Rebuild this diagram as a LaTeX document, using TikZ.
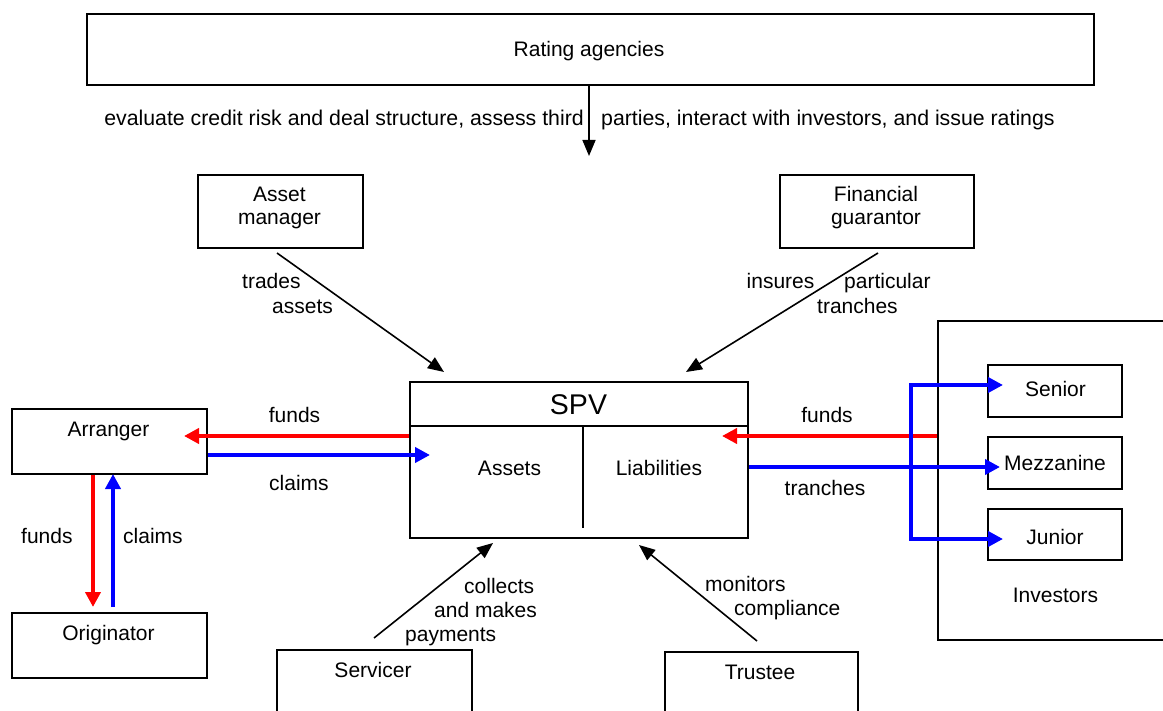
\documentclass[tikz,border=0pt]{standalone}
\usepackage{fontspec}
\setmainfont{Liberation Sans}
\usetikzlibrary{arrows.meta,calc}
\definecolor{fundred}{RGB}{255,0,0}
\definecolor{claimblue}{RGB}{0,0,255}
\tikzset{
  box/.style={draw, line width=1.8pt, inner sep=0pt, anchor=north west},
  txt/.style={font=\fontsize{21}{25}\selectfont, inner sep=0pt, anchor=base},
  txtl/.style={txt, anchor=base west},
  txtr/.style={txt, anchor=base east},
  conn/.style={line width=1.6pt, -{Triangle[length=16pt,width=13pt]}},
  fundsarrow/.style={fundred, line width=4.6pt, -{Triangle[length=15pt,width=15pt]}},
  claimsarrow/.style={claimblue, line width=4.6pt, -{Triangle[length=15pt,width=15pt]}},
  bracketarrow/.style={claimblue, line width=4.6pt, line join=miter, {Triangle[length=15pt,width=15pt]}-{Triangle[length=15pt,width=15pt]}}
}
\begin{document}
\begin{tikzpicture}[x=1pt,y=-1pt]
\useasboundingbox (0,0) rectangle (1163,711);
\clip (0,0) rectangle (1163,711);

% boxes
\node[box, minimum width=1007pt, minimum height=71pt] (rating) at (86,13) {};
\node[box, minimum width=165pt, minimum height=73pt] (assetmgr) at (197,174) {};
\node[box, minimum width=194pt, minimum height=73pt] (guarantor) at (779,174) {};
\node[box, minimum width=338pt, minimum height=156pt] (spv) at (409,381) {};
\node[box, minimum width=195pt, minimum height=65pt] (arranger) at (11,408) {};
\node[box, minimum width=195pt, minimum height=65pt] (originator) at (11,612) {};
\node[box, minimum width=250pt, minimum height=319pt] (investors) at (937,320) {};
\node[box, minimum width=134pt, minimum height=52pt] (senior) at (987,364) {};
\node[box, minimum width=134pt, minimum height=52pt] (mezz) at (987,436) {};
\node[box, minimum width=134pt, minimum height=51pt] (junior) at (987,508) {};
\node[box, minimum width=195pt, minimum height=80pt] (servicer) at (276,649) {};
\node[box, minimum width=193pt, minimum height=80pt] (trustee) at (664,651) {};

% SPV dividers
\coordinate (hdiv) at (0,426);
\draw[line width=1.8pt] (spv.west |- hdiv) -- (spv.east |- hdiv);
\coordinate (vdivtop) at (583,426);
\coordinate (vdivbot) at (583,528);
\draw[line width=1.8pt] (vdivtop) -- (vdivbot);

% box texts
\node[txt] (tRating) at (589,57) {Rating agencies};
\node[txt] (tAsset1) at (279.5,202) {Asset};
\node[txt] (tAsset2) at (279.5,225) {manager};
\node[txt] (tFin1) at (876,202) {Financial};
\node[txt] (tFin2) at (876,225) {guarantor};
\node[txt, font=\fontsize{28.5}{32}\selectfont] (tSPV) at (578.5,415) {SPV};
\node[txt] (tAssets) at (509.5,475.5) {Assets};
\node[txt] (tLiab) at (659,475.5) {Liabilities};
\node[txt] (tArr) at (108.5,436.5) {Arranger};
\node[txt] (tOrig) at (108.5,640) {Originator};
\node[txt] (tSenior) at (1055.5,397) {Senior};
\node[txt] (tMezz) at (1055,471) {Mezzanine};
\node[txt] (tJunior) at (1055,544) {Junior};
\node[txt] (tInv) at (1055.5,602) {Investors};
\node[txt] (tServ) at (373,677.5) {Servicer};
\node[txt] (tTrust) at (760,679) {Trustee};

% connector labels
\node[txtr, font=\fontsize{21.3}{25}\selectfont] (lRate1) at (584,126) {evaluate credit risk and deal structure, assess third};
\node[txtl, font=\fontsize{21.3}{25}\selectfont] (lRate2) at (601,126) {parties, interact with investors, and issue ratings};
\node[txtl] (lTrades) at (242,289) {trades};
\node[txtl] (lAssets) at (272,313.5) {assets};
\node[txtl] (lInsures) at (746.5,289) {insures};
\node[txtl] (lPart) at (844,289) {particular};
\node[txtl] (lTranch1) at (817,313.5) {tranches};
\node[txt] (lFundsL) at (294.5,423) {funds};
\node[txtl] (lClaimsL) at (269,490) {claims};
\node[txt] (lFundsR) at (827,423) {funds};
\node[txt] (lTranch2) at (825,495) {tranches};
\node[txtl] (lFundsV) at (21,543) {funds};
\node[txtl] (lClaimsV) at (123,543) {claims};
\node[txtl] (lCollects) at (464,593) {collects};
\node[txtl] (lMakes) at (434,617) {and makes};
\node[txtl] (lPay) at (405,641) {payments};
\node[txtl] (lMon) at (705,591) {monitors};
\node[txtl] (lComp) at (734,615.5) {compliance};

% black connectors
\coordinate (rateTip) at (589,156);
\draw[conn] (rating.south -| rateTip) -- (rateTip);
\coordinate (amStart) at (277,253);
\coordinate (amTip) at (444,372);
\draw[conn] (amStart) -- (amTip);
\coordinate (fgStart) at (878,253);
\coordinate (fgTip) at (686,372);
\draw[conn] (fgStart) -- (fgTip);
\coordinate (svStart) at (374,638);
\coordinate (svTip) at (493,543);
\draw[conn] (svStart) -- (svTip);
\coordinate (trStart) at (757,641);
\coordinate (trTip) at (639,545);
\draw[conn] (trStart) -- (trTip);

% funds / claims with arranger
\coordinate (fLTip) at (184,436);
\draw[fundsarrow] (fLTip -| spv.west) -- (fLTip);
\coordinate (cLTip) at (430,455);
\draw[claimsarrow] (cLTip -| arranger.east) -- (cLTip);
\coordinate (fVTip) at (93,607);
\draw[fundsarrow] (fVTip |- arranger.south) -- (fVTip);
\coordinate (cVStart) at (113,607);
\coordinate (cVTip) at (113,474);
\draw[claimsarrow] (cVStart) -- (cVTip);

% funds / tranches with investors
\coordinate (fRTip) at (722,436);
\draw[fundsarrow] (fRTip -| investors.west) -- (fRTip);
\coordinate (tMTip) at (1000,467);
\draw[claimsarrow] (tMTip -| spv.east) -- (tMTip);
\coordinate (bSen) at (1003,385);
\coordinate (bJun) at (1003,539);
\coordinate (bTop) at (911,385);
\coordinate (bBot) at (911,539);
\draw[bracketarrow] (bSen) -- (bTop) -- (bBot) -- (bJun);
\end{tikzpicture}
\end{document}
